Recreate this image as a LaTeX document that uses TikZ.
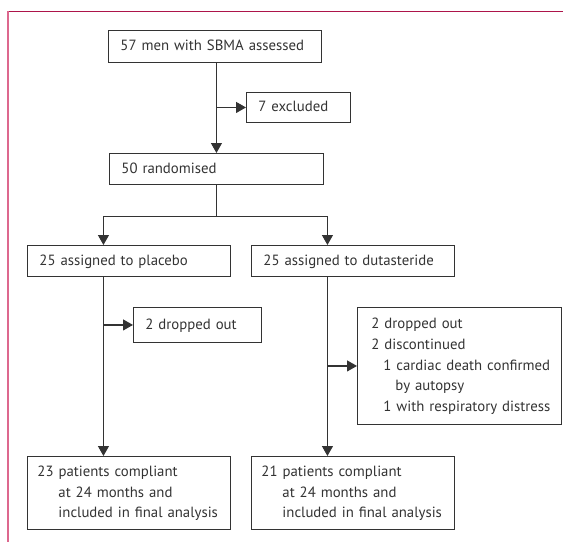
\documentclass[tikz,border=0pt]{standalone}
\usepackage{fontspec}
\setmainfont{PT Sans}
\usetikzlibrary{arrows.meta,calc}

\definecolor{lancetred}{RGB}{173,20,74}
\definecolor{lancetpink}{RGB}{221,104,142}
\definecolor{flowgray}{RGB}{51,51,51}

\newcommand\flowlines[1]{\begin{tabular}{@{}l@{}}#1\end{tabular}}

\tikzset{
    flowbox/.style={draw=flowgray, line width=0.9pt, anchor=north west, inner xsep=12pt, inner ysep=0pt,
        align=left, text=flowgray, font=\fontsize{14.8}{20.8}\selectfont},
    flowline/.style={draw=flowgray, line width=1.1pt},
    flowarrow/.style={flowline, -{Triangle[length=10pt,width=11pt]}}
}

\begin{document}
\begin{tikzpicture}[x=1pt, y=-1pt]
        \useasboundingbox (0,0) rectangle (563,542);
        % Page rules
        \draw[lancetred, line width=1pt] (7.5,11.5) -- (563,11.5);
        \draw[lancetpink, line width=1.5pt] (8,11) -- (8,542);

        % Boxes
        \node[flowbox, text width=189pt, minimum height=32pt] (assessed) at (108,30) {\flowlines{57 men with SBMA assessed}};
        \node[flowbox, text width=80pt, minimum height=30pt] (excluded) at (246,92) {\flowlines{7 excluded}};
        \node[flowbox, text width=190pt, minimum height=31pt] (randomised) at (109,153) {\flowlines{50 randomised}};
        \node[flowbox, text width=179pt, minimum height=31pt] (placebo) at (27,245) {\flowlines{25 assigned to placebo}};
        \node[flowbox, text width=179pt, minimum height=31pt] (dutasteride) at (251,245) {\flowlines{25 assigned to dutasteride}};
        \node[flowbox, text width=104pt, minimum height=35pt] (droppedL) at (133,307) {\flowlines{2 dropped out}};
        \node[flowbox, text width=176pt, inner xsep=14pt, minimum height=117pt] (droppedR) at (357,307)
            {\flowlines{2 dropped out\\2 discontinued\\\hspace*{12pt}1 cardiac death confirmed\\\hspace*{24pt}by autopsy\\\hspace*{12pt}1 with respiratory distress}};
        \node[flowbox, text width=183pt, inner xsep=10pt, minimum height=73pt] (finalL) at (27,456)
            {\flowlines{23 patients compliant\\\hspace*{21pt}at 24 months and\\\hspace*{21pt}included in final analysis}};
        \node[flowbox, text width=183pt, inner xsep=10pt, minimum height=73pt] (finalR) at (251,456)
            {\flowlines{21 patients compliant\\\hspace*{21pt}at 24 months and\\\hspace*{21pt}included in final analysis}};

        % Columns of the two arms
        \coordinate (split) at ($(randomised.south)+(0,32)$);
        \coordinate (lcol) at ([xshift=-25.5pt]placebo.north);
        \coordinate (rcol) at ([xshift=-25.5pt]dutasteride.north);

        % Connectors
        \draw[flowarrow] (randomised.north |- assessed.south) -- (randomised.north);
        \draw[flowarrow] (randomised.north |- excluded.west) -- (excluded.west);
        \draw[flowline] (randomised.south) -- (split);
        \draw[flowarrow] (split) -| (lcol);
        \draw[flowarrow] (split) -| (rcol);
        \draw[flowarrow] (lcol |- placebo.south) -- (lcol |- finalL.north);
        \draw[flowarrow] (rcol |- dutasteride.south) -- (rcol |- finalR.north);
        \draw[flowarrow] (lcol |- droppedL.west) -- (droppedL.west);
        \draw[flowarrow] (rcol |- droppedR.west) -- (droppedR.west);
    \end{tikzpicture}
\end{document}
